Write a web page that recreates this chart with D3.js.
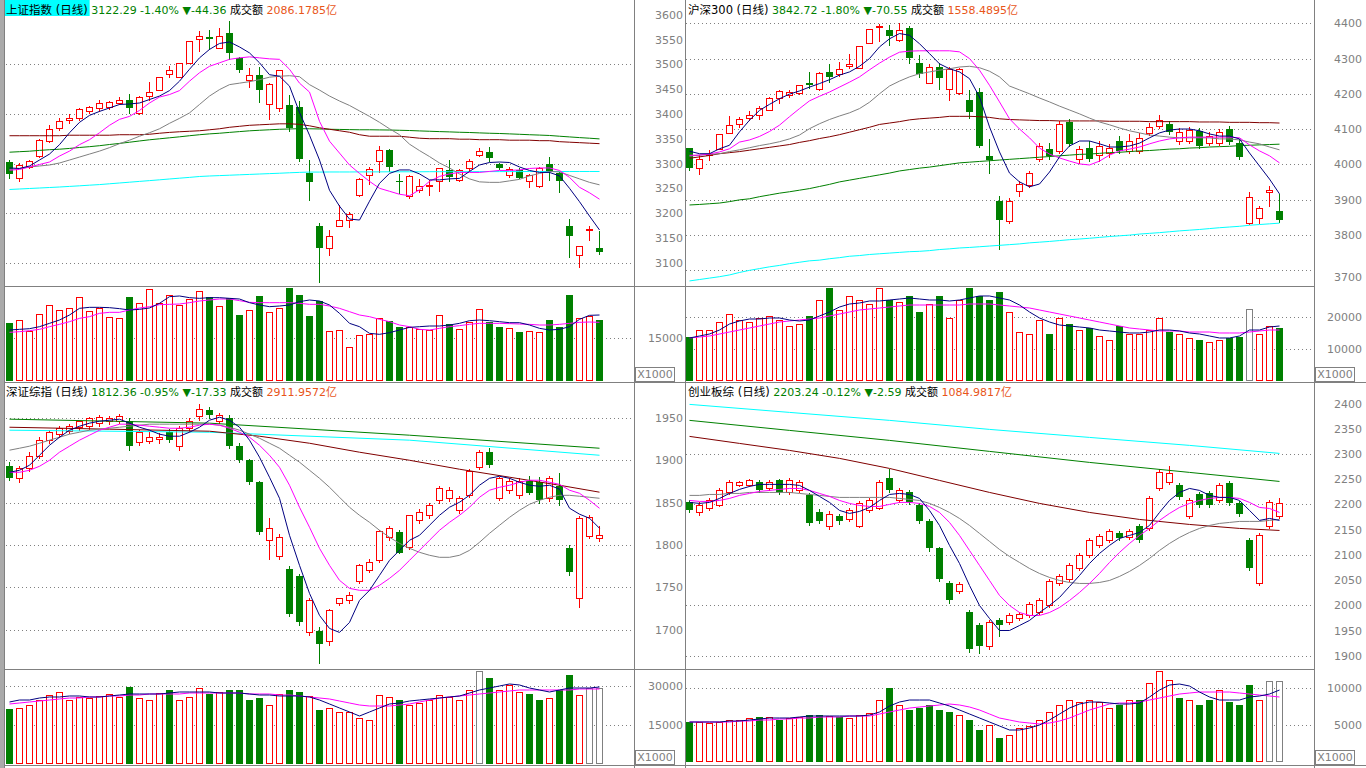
<!DOCTYPE html>
<html><head><meta charset="utf-8">
<script src="https://cdn.jsdelivr.net/npm/d3@7"></script>
<style>body{margin:0;background:#fff;overflow:hidden}svg{display:block}</style>
</head><body><svg id="c" width="1366" height="768"></svg>
<script>
// ---------------- DATA ----------------
const titles = ['上证指数','沪深300','深证综指','创业板综'];
const lastPrices = ['3122.29','3842.72','1812.36','2203.24'];
const pctChanges = ['-1.40%','-1.80%','-0.95%','-0.12%'];
const ptChanges = ['-44.36','-70.55','-17.33','-2.59'];
const turnovers = ['2086.1785','1558.4895','2911.9572','1084.9817'];

const shTicks = [3600,3550,3500,3450,3400,3350,3300,3250,3200,3150,3100];
const hsTicks = [4400,4300,4200,4100,4000,3900,3800,3700];
const szTicks = [1950,1900,1850,1800,1750,1700];
const cyTicks = [2400,2350,2300,2250,2200,2150,2100,2050,2000,1950,1900];
const shVolTicks = [15000], hsVolTicks = [20000,10000], szVolTicks = [30000,15000], cyVolTicks = [10000,5000];

// [open, high, low, close]
const shOHLC = [
[3303,3307,3271,3278],[3271,3301,3264,3296],[3293,3308,3291,3306],[3315,3350,3313,3348],[3346,3377,3344,3369],
[3371,3391,3368,3385],[3387,3399,3382,3391],[3391,3412,3387,3409],[3405,3415,3402,3414],[3412,3428,3405,3421],
[3414,3427,3410,3425],[3422,3434,3420,3429],[3429,3441,3401,3412],[3402,3437,3400,3435],[3437,3464,3429,3444],
[3449,3475,3448,3474],[3481,3496,3475,3488],[3475,3503,3474,3502],[3503,3547,3502,3546],[3552,3567,3526,3558],
[3555,3570,3530,3550],[3533,3573,3532,3558],[3563,3587,3510,3523],[3512,3515,3484,3488],[3469,3493,3454,3479],
[3478,3494,3424,3448],[3419,3463,3390,3461],[3411,3489,3405,3488],[3418,3439,3365,3372],[3414,3426,3305,3309],
[3281,3307,3226,3263],[3174,3180,3062,3130],[3129,3166,3115,3153],[3175,3217,3173,3186],[3186,3202,3172,3199],
[3236,3270,3235,3268],[3276,3293,3258,3288],[3306,3335,3283,3328],[3328,3330,3284,3293],[3265,3278,3240,3263],
[3235,3276,3231,3274],[3247,3268,3242,3254],[3254,3267,3237,3256],[3265,3291,3245,3290],[3287,3307,3265,3272],
[3267,3288,3264,3287],[3291,3309,3286,3306],[3317,3331,3315,3326],[3324,3334,3305,3311],[3299,3301,3288,3291],
[3277,3292,3272,3289],[3287,3290,3270,3270],[3264,3278,3252,3276],[3255,3292,3252,3290],[3299,3314,3267,3284],
[3280,3283,3242,3264],[3173,3188,3111,3153],[3116,3133,3092,3133],[3165,3173,3145,3168],[3130,3164,3117,3122.29]];
const shMA5 = [3291,3290,3295,3307,3319,3338,3362,3383,3397,3405,3412,3419,3420,3422,3429,3436,3447,3466,3490,3513,3530,3542,3545,3535,3523,3503,3479,3476,3456,3403,3357,3307,3246,3214,3188,3186,3224,3260,3280,3287,3287,3279,3267,3267,3269,3270,3284,3297,3302,3303,3302,3293,3286,3282,3282,3275,3250,3223,3194,3166];
const shMA10 = [3286.5,3288,3293,3298,3303,3315,3325,3338,3348,3362,3377,3389,3395,3407,3422,3434,3439,3447,3466,3483,3496,3503,3510,3513,3515,3513,3511,3510,3490,3462,3444,3385,3345,3321,3297,3280,3264,3250,3244,3238,3235,3247,3264,3274,3279,3282,3282,3282,3284,3286,3286,3287,3290,3291,3291,3286,3272,3252,3241,3228];
const shMA20 = [3288,3290,3293,3295,3297,3301,3307,3313,3319,3325,3332,3340,3347,3355,3362,3370,3381,3391,3402,3419,3436,3449,3459,3462,3465,3469,3474,3476,3477,3475,3459,3448,3436,3426,3417,3406,3395,3383,3370,3358,3339,3326,3314,3301,3291,3279,3269,3263,3262,3262,3265,3268,3275,3280,3284,3283,3276,3269,3262,3257];
const shMA60 = [3356,3356,3356,3356,3356,3356,3357,3357,3357,3357,3357,3358,3358,3358,3359,3361,3362.7,3364,3365,3366,3368,3370,3373,3375,3377,3378,3379,3380,3380,3379,3376,3372,3369,3366,3363,3358,3355,3355,3355,3355,3353,3351,3350,3350,3350,3349,3349,3348,3348,3348,3347,3347,3347,3346,3346,3344,3343,3342,3341,3340];
const shMA120 = [3322.8,3323.8,3324.8,3326.4,3327.8,3328.8,3330.4,3332.3,3333.9,3335.9,3338.3,3340.5,3342.9,3345.4,3347.8,3349.8,3351.8,3353.8,3356,3358,3359.7,3361,3362.7,3364.3,3365.9,3367,3368,3369,3369.6,3370.2,3370,3369.6,3369,3368.7,3368.3,3368,3368,3367.7,3367.5,3367,3366.5,3365.7,3365,3364.3,3363.7,3363,3362.5,3361.7,3361,3360.5,3359.7,3358.9,3358,3357.3,3356.5,3355,3353.6,3352.2,3351,3349.6];
const shMA250 = [3247.6,3248.6,3249.6,3250.6,3251.6,3252.6,3253.8,3255,3256.3,3257.5,3259.1,3260.7,3262.3,3263.9,3265.5,3267.1,3268.8,3270.4,3272,3273.8,3274.8,3275.6,3276.4,3277.2,3278,3278.8,3279.6,3280.4,3281.3,3282.1,3282.7,3282.7,3282.9,3282.9,3282.9,3283.1,3283.1,3283.1,3283.3,3283.3,3283.3,3283.3,3283.5,3283.5,3283.5,3283.5,3283.5,3283.7,3283.7,3283.7,3283.7,3283.7,3283.9,3283.9,3283.9,3283.9,3283.9,3283.9,3283.9,3283.9];
const shVol = [20210,21130,17440,23210,26330,24600,25170,28980,24250,25400,22170,21820,29210,27020,31870,26900,29790,26330,28290,31180,29210,25980,28640,22860,24600,29560,23900,25170,32220,29790,22630,27710,17440,17670,11660,15930,16160,21710,20780,18820,18820,18010,17670,22860,19740,17900,20320,24830,20550,18700,18240,16970,17320,16860,21130,18820,29790,21710,22520,21130];
const shVMA5 = [17665,17896,18127,18820,19975,21130,22862,25172,25519,25519,25404,25057,24595,24826,25288,26905,29215,29446,28868,28637,28868,28868,28637,28406,27136,26327,25750,25981,26327,27482,28060,27713,26327,23440,19975,18820,16510,16164,16741,17665,18589,18820,19051,19051,19398,19975,20899,21130,20899,20552,20206,20206,19398,18243,17665,17896,18820,21361,22747,22862];
const shVMA10 = [16857,17088,17434,17896,18820,19629,20552,21707,22285,23440,23787,23787,24595,25288,25750,26443,26559,26674,27136,27713,28060,28406,28406,27829,27252,27136,27136,27136,27136,26905,26559,26559,25981,25172,24017,22862,22285,21361,20552,19398,18820,17896,17665,18243,18820,19167,19629,19975,19975,19975,19860,19744,19629,19398,19398,19629,19975,20321,20437,20321];
const shGrayVol = [];

const hsOHLC = [
[4046,4046,3983,3990],[3990,4025,3971,4016],[4026,4041,4013,4030],[4044,4087,4042,4085],[4090,4137,4089,4111],
[4113,4133,4105,4128],[4132,4150,4125,4141],[4139,4165,4128,4160],[4155,4190,4153,4188],[4188,4210,4175,4207],
[4196,4211,4190,4204],[4203,4226,4200,4224],[4231,4262,4216,4226],[4214,4261,4212,4259],[4262,4284,4233,4248],
[4257,4290,4250,4270],[4279,4314,4272,4284],[4274,4337,4272,4335],[4345,4385,4343,4383],[4389,4397,4350,4392],
[4380,4394,4339,4364],[4352,4401,4350,4380],[4387,4392,4288,4302],[4287,4309,4248,4257],[4231,4285,4230,4276],
[4276,4287,4214,4246],[4213,4275,4183,4271],[4203,4273,4200,4271],[4182,4212,4132,4149],[4205,4215,4048,4051],
[4023,4071,3976,4013],[3896,3910,3760,3841],[3839,3905,3833,3896],[3924,3953,3910,3944],[3941,3981,3936,3975],
[4015,4060,4009,4052],[4043,4060,4015,4024],[4038,4123,4032,4114],[4120,4129,4052,4058],[4015,4052,4004,4043],
[4046,4066,4009,4015],[4026,4066,4009,4052],[4032,4058,4021,4046],[4066,4080,4032,4038],[4038,4086,4032,4066],
[4038,4089,4032,4075],[4089,4117,4083,4106],[4109,4140,4103,4126],[4114,4123,4086,4092],[4066,4103,4058,4092],
[4066,4106,4060,4097],[4095,4103,4046,4052],[4060,4092,4055,4080],[4060,4100,4055,4092],[4100,4109,4058,4063],
[4060,4072,4015,4021],[3833,3922,3831,3907],[3848,3881,3833,3876],[3921,3938,3882,3927],[3867,3916,3836,3842.72]];
const hsMA5 = [4037,4030,4030,4044,4054,4092,4125,4153,4170,4186,4199,4208,4219,4229,4240,4253,4262,4278,4300,4333,4356,4371,4366,4342,4314,4285,4271,4262,4243,4191,4106,4035,3975,3950,3936,3944,3978,4021,4052,4066,4066,4058,4049,4049,4052,4060,4075,4089,4097,4100,4100,4095,4086,4080,4080,4072,4032,3995,3958,3916];
const hsMA10 = [4025.5,4026,4029,4035,4044,4063,4069,4079,4093,4111,4135,4158,4180,4193,4205,4219,4233,4248,4268,4287,4304,4318,4321,4322,4322,4322,4322,4319,4300,4267,4224,4177,4129,4100,4075,4046,4029,4018,4009,4001,3998,4009,4026,4038,4043,4049,4058,4066,4072,4075,4077,4077,4077,4077,4077,4075,4055,4038,4024,4004];
const hsMA20 = [4023,4026,4028,4030,4036,4041,4047,4053,4058,4064,4072,4083,4101,4115,4127,4137,4146,4158,4176,4200,4222,4236,4248,4257,4262,4267,4271,4276,4278,4274,4264,4248,4222,4211,4200,4188,4177,4165,4154,4143,4131,4120,4112,4103,4095,4089,4083,4080,4077,4075,4075,4075,4075,4072,4072,4069,4063,4058,4049,4041];
const hsMA60 = [4017,4021,4025,4030,4033,4036,4040,4044,4048,4052,4056,4062,4067,4073,4078,4084,4091,4098,4105,4113,4117,4121,4126,4129,4131,4133,4136,4136,4136,4135,4133,4129,4127,4126,4125,4124,4124,4123,4123,4123,4123,4123,4122,4122,4122,4122,4121,4121,4121,4121,4121,4120,4120,4120,4119,4119,4119,4118,4118,4117];
const hsMA120 = [3884.5,3886,3888,3890,3894,3899,3902,3908,3913,3918,3922,3926.5,3931,3937,3943,3950,3955,3960,3965,3970,3975,3981,3985,3989,3992,3996,4000,4004,4006,4008,4010,4012,4014,4016,4018,4020,4022,4024,4026,4028,4029,4031,4033,4034,4036,4038,4039,4041,4043,4044,4046,4047,4049,4050,4051,4053,4054,4055,4056,4057];
const hsMA250 = [3669,3673,3677,3681,3686,3693,3699,3704,3709,3713,3718,3722,3726,3728,3732,3735,3739,3741,3744,3746,3748,3750,3752,3753,3755,3758,3760,3762.5,3764,3766,3768,3770,3772,3774,3777,3779,3781,3783.5,3786,3788,3790,3792.5,3795,3797,3799,3802,3804,3806,3808.5,3811,3813,3815,3817.5,3820,3822,3824,3827,3829,3831,3833];
const hsVol = [13715,15882,15882,18359,20836,18978,18359,19598,20217,18978,17121,17740,20217,25170,28886,22075,26409,25170,23932,28886,25170,24551,26409,21455,23932,26409,19598,25170,28886,26409,25170,27648,21455,15263,14644,18978,14644,19598,17740,15882,16502,14024,12786,17121,14644,14644,15882,19598,15263,14644,13405,12786,12167,12786,13405,13715,22384,14644,17121,16502];
const hsVMA5 = [13406,14025,14644,15882,17740,18669,19288,19288,19598,19598,18978,18669,18978,20217,21455,23003,23932,24242,24861,24861,25170,25480,25790,25480,25170,25170,24861,25170,25790,26409,26409,25790,25170,23622,21455,19598,18359,17430,17121,16811,16502,15882,15573,15263,14954,14954,15263,15882,15882,15573,14954,14644,14025,13406,13406,14025,15882,15882,16811,17121];
const hsVMA10 = [13406,13715,14025,14644,15263,15882,16502,17121,17740,18359,18669,18978,19288,19598,20217,20836,21455,22075,22384,22694,23003,23313,23622,23622,23622,23622,23622,23622,23932,23932,23932,23622,23313,23003,22694,22075,21455,20836,20217,19598,18978,18359,17740,17121,16502,16192,15882,15573,15573,15573,15263,15263,15263,14954,14954,14954,15263,15573,15882,15882];
const hsGrayVol = [56];

const szOHLC = [
[1893,1898,1877,1879],[1879,1893,1874,1891],[1891,1910,1888,1905],[1905,1927,1903,1924],[1924,1936,1921,1933],
[1931,1940,1928,1938],[1935,1943,1932,1941],[1939,1947,1936,1946],[1940,1951,1937,1950],[1944,1953,1941,1951],
[1946,1952,1943,1950],[1946,1955,1944,1952],[1947,1950,1912,1917],[1922,1936,1918,1933],[1923,1934,1920,1928],
[1925,1932,1921,1928],[1933,1937,1922,1924],[1917,1940,1912,1938],[1938,1950,1935,1947],[1952,1966,1948,1961],
[1959,1963,1950,1954],[1947,1956,1944,1954],[1950,1953,1915,1917],[1917,1920,1898,1900],[1900,1902,1872,1874],
[1874,1876,1813,1815],[1806,1832,1784,1820],[1787,1813,1784,1810],[1772,1775,1716,1718],[1763,1766,1705,1709],
[1697,1738,1694,1735],[1698,1703,1661,1683],[1687,1725,1682,1723],[1731,1738,1729,1737],[1735,1744,1732,1741],
[1757,1778,1755,1776],[1771,1784,1768,1780],[1782,1818,1780,1817],[1810,1822,1806,1820],[1815,1818,1790,1791],
[1798,1836,1795,1835],[1829,1842,1826,1839],[1835,1850,1832,1847],[1853,1870,1850,1867],[1855,1868,1852,1865],
[1841,1858,1838,1856],[1859,1890,1857,1888],[1892,1912,1890,1910],[1910,1914,1892,1895],[1856,1880,1853,1879],
[1865,1879,1862,1876],[1859,1879,1856,1876],[1876,1882,1860,1862],[1874,1880,1850,1853],[1855,1881,1852,1879],
[1870,1885,1847,1853],[1796,1800,1765,1768],[1737,1834,1727,1832],[1811,1836,1808,1833],[1808,1822,1805,1812.36]];
const szMA5 = [1885.9,1888.3,1894.2,1906,1917.8,1927.3,1935.6,1940.3,1943.9,1946.2,1947.4,1948.6,1943.9,1939.1,1935.6,1930.9,1928.5,1928.5,1933.2,1939.1,1947.4,1950.9,1947.4,1939.1,1923.8,1903.7,1880,1855.2,1811.5,1776,1742.9,1716.9,1701.5,1696.8,1708.6,1734.6,1746.5,1764.2,1781.9,1793.7,1805.6,1811.5,1823.3,1835.1,1844.6,1850.5,1858.8,1870.6,1878.8,1881.2,1878.8,1874.1,1870.6,1869.4,1870.6,1866,1843.5,1836.4,1831.6,1819.8];
const szMA10 = [1885.9,1885.9,1888.3,1893,1900.1,1909.6,1916.7,1923.8,1929.7,1935.6,1939.1,1942.7,1942.7,1941.5,1940.3,1939.1,1937.9,1937.9,1939.1,1941.5,1942.7,1941.5,1937.9,1933.2,1927.3,1917.8,1906,1891.8,1870.6,1844.6,1821,1796.1,1776,1758.3,1748.8,1746.5,1746.5,1752.4,1760.6,1770.1,1781.9,1793.7,1805.6,1817.4,1826.8,1835.1,1844.6,1856.4,1864.7,1868.2,1870.6,1874.1,1876.5,1876.5,1874.1,1871.7,1864.7,1861.1,1852.8,1843.4];
const szMA20 = [1912,1914.3,1916.7,1920.2,1923.8,1927.3,1930.9,1933.2,1935.6,1936.8,1937.9,1939.1,1940.3,1941.5,1942.7,1942.7,1942.7,1942.7,1942.7,1942.7,1942.7,1941.5,1939.1,1935.6,1930.9,1926.1,1920.2,1914.3,1906,1897.8,1888.3,1878.8,1868.2,1856.4,1844.6,1835.1,1826.8,1817.4,1809.1,1802,1796.1,1791.4,1787.9,1785.5,1785.5,1787.9,1793.7,1803.2,1813.8,1823.3,1832.7,1841,1848.1,1852.8,1856.4,1858.7,1858.7,1857.6,1856.4,1855.2];
const szMA60 = [[0,1939.1],[10,1936.8],[20,1934.4],[25,1928.5],[30,1920.2],[35,1909.6],[40,1900.1],[45,1889.5],[50,1880.1],[55,1870.6],[59,1862.4]];
const szMA120 = [[0,1948.6],[20,1943.9],[40,1929.7],[59,1914.3]];
const szMA250 = [[0,1935.6],[20,1933.2],[40,1923.8],[59,1906]];
const szVol = [21202,21590,22752,24690,26628,27791,24690,25853,25465,26241,27016,25853,29729,25465,24690,27403,28566,24690,25853,29341,27016,27791,28566,28566,24690,25465,22752,27016,28566,27791,26241,20814,21590,20039,20039,17713,16938,26628,25853,24690,22752,23527,24690,26628,25853,24690,28566,35931,33218,28566,30505,27791,27016,24690,25465,28566,34380,26628,29341,29341];
const szVMA5 = [23915,24690,24690,25465,25853,25853,26241,26241,25853,25853,26241,26628,27016,27016,27016,27016,27403,27791,27791,27791,27791,27403,27403,27403,27016,26628,26628,26241,26241,26241,25853,24690,23140,21590,20039,18488,20039,21590,23140,23527,24302,24690,25078,25465,25853,26241,27403,28566,29341,30117,30892,30505,29341,28566,27791,28566,29341,29341,29341,29729];
const szVMA10 = [23140,23527,23915,24302,24690,25078,25465,25465,25853,25853,26241,26241,26628,26628,27016,27016,27016,27016,27403,27403,27403,27403,27403,27403,27016,27016,27016,26628,26628,26241,25853,25465,25078,24302,23527,22752,22364,22364,22364,22752,23140,23915,24690,25465,25853,26241,26628,27016,27403,27791,28179,28566,28566,28566,28566,28566,28566,28954,28954,28954];
const szGrayVol = [47,58,59];

const cyOHLC = [
[2204,2208,2184,2188],[2184,2204,2180,2198],[2192,2212,2188,2208],[2198,2232,2196,2228],[2224,2248,2220,2244],
[2238,2246,2236,2244],[2238,2250,2236,2248],[2244,2248,2224,2228],[2232,2248,2228,2244],[2248,2250,2220,2224],
[2224,2252,2220,2248],[2228,2248,2224,2244],[2218,2222,2160,2164],[2184,2190,2164,2168],[2158,2186,2152,2182],
[2178,2182,2162,2168],[2172,2192,2168,2188],[2158,2206,2156,2202],[2188,2212,2184,2208],[2192,2248,2190,2244],
[2252,2270,2224,2228],[2208,2232,2204,2228],[2224,2228,2200,2204],[2198,2202,2164,2168],[2168,2172,2108,2113],
[2113,2116,2048,2053],[2045,2048,2004,2010],[2029,2047,2025,2043],[1986,1990,1908,1914],[1960,1964,1905,1920],
[1920,1970,1914,1966],[1970,1975,1940,1960],[1966,1984,1962,1980],[1974,1986,1970,1982],[1980,2006,1976,2002],
[1986,2014,1982,2010],[2000,2053,1996,2049],[2045,2063,2041,2059],[2053,2083,2049,2079],[2073,2103,2069,2099],
[2099,2133,2095,2129],[2119,2142,2115,2138],[2129,2152,2125,2148],[2144,2148,2129,2133],[2135,2152,2131,2148],
[2158,2162,2125,2129],[2154,2216,2150,2212],[2232,2270,2228,2264],[2244,2276,2240,2262],[2238,2242,2210,2214],
[2178,2212,2174,2208],[2220,2224,2194,2198],[2222,2226,2194,2198],[2208,2242,2204,2238],[2242,2246,2198,2202],
[2202,2206,2178,2182],[2129,2133,2069,2073],[2045,2143,2041,2139],[2158,2208,2154,2204],[2178,2212,2174,2203.24]];
const cyMA5 = [2204,2202,2204,2211.9,2221.8,2229.8,2235.7,2239.7,2239.7,2239.7,2239.7,2237.7,2227.8,2215.9,2204,2188.1,2182.1,2186.1,2194,2207.9,2219.8,2221.8,2219.8,2211.9,2188.1,2158.3,2118.7,2082.9,2039.3,1999.6,1973.8,1950,1950,1959.9,1969.9,1985.7,1999.6,2015.5,2037.3,2059.1,2082.9,2102.8,2118.7,2132.5,2138.5,2144.4,2158.3,2184.1,2207.9,2223.8,2231.7,2227.8,2217.9,2213.9,2213.9,2207.9,2188.1,2168.3,2172.2,2168.3];
const cyMA10 = [2207.9,2206,2206,2207.9,2211.9,2217.9,2221.8,2225.8,2227.8,2229.8,2231.7,2231.7,2227.8,2221.8,2215.9,2207.9,2202,2198,2196,2196,2200,2204,2204,2202,2196,2184.1,2164.3,2138.5,2108.7,2079,2049.2,2019.5,1999.6,1985.7,1979.8,1979.8,1985.7,1995.6,2009.5,2025.4,2043.3,2063.1,2084.9,2104.8,2122.6,2138.5,2152.4,2168.3,2182.1,2194,2202,2207.9,2211.9,2213.9,2213.9,2211.9,2204,2194,2192,2184.1];
const cyMA20 = [2217.9,2217.9,2219.8,2219.8,2221.8,2221.8,2223.8,2223.8,2223.8,2223.8,2223.8,2221.8,2219.8,2217.9,2215.9,2213.9,2213.9,2213.9,2213.9,2213.9,2213.9,2211.9,2209.9,2207.9,2202,2194,2184.1,2172.2,2158.3,2142.5,2126.6,2110.7,2096.8,2084.9,2073,2063.1,2055.2,2049.2,2045.2,2043.3,2043.3,2045.2,2049.2,2057.2,2067.1,2079,2092.9,2108.7,2122.6,2134.5,2144.4,2152.4,2158.3,2162.3,2164.3,2166.3,2166.3,2166.3,2168.3,2170.2];
const cyMA60 = [[0,2334.9],[5,2321],[10,2307.1],[15,2291.3],[20,2271.4],[25,2247.6],[30,2223.8],[35,2202],[40,2184.1],[45,2170.2],[50,2160.3],[55,2152.4],[59,2148.4]];
const cyMA120 = [[0,2366.7],[10,2346.8],[20,2327],[30,2305.2],[40,2283.3],[50,2263.5],[59,2245.6]];
const cyMA250 = [[0,2398.4],[10,2382.5],[20,2366.7],[30,2348.8],[40,2332.9],[50,2317.1],[59,2301.2]];
const cyVol = [5404,5404,5269,5404,5674,5674,5944,6080,6080,5674,5944,6080,6350,6350,6215,6080,5944,6350,6620,8376,9997,7701,7025,7295,7701,7025,6755,6350,5674,4323,4999,3242,3648,4593,4864,5674,6755,7701,8376,8106,8376,8106,7295,7701,8376,8376,10673,12294,11078,8646,8376,7701,8376,9727,8106,7701,10403,8376,10943,10943];
const cyVMA5 = [5404,5404,5404,5404,5539,5539,5674,5809,5944,5944,5944,6080,6215,6215,6215,6215,6215,6215,6350,6755,7566,8106,8376,8376,8376,7971,7566,7025,6485,5944,5404,4864,4323,4323,4593,4999,5674,6485,7295,7836,8106,8106,7971,7836,7836,7971,8782,9727,10403,10538,10268,9457,8782,8376,8376,8376,8782,8917,9187,9727];
const cyVMA10 = [5404,5404,5404,5404,5404,5539,5539,5674,5674,5809,5809,5944,5944,6080,6080,6080,6215,6215,6215,6485,6755,7025,7295,7431,7566,7701,7836,7701,7431,7025,6485,5944,5674,5404,5269,5134,5269,5539,5944,6485,7025,7431,7836,7971,7971,8106,8376,8646,8917,9187,9322,9457,9457,9457,9457,9322,9187,9052,8917,8782];
const cyGrayVol = [58,59];

// ---------------- LAYOUT ----------------
const RED='#ff0000', GREEN='#008000', GRAY='#808080';
const maColors = ['#000080','#ff00ff','#808080','#800000','#008000','#00ffff'];
const FONT = '"DejaVu Sans","Noto Sans CJK SC",sans-serif';

const panels = [
 {k:0, ohlc:shOHLC, vol:shVol, gray:shGrayVol, ma:[shMA5,shMA10,shMA20,shMA60,shMA120,shMA250], vma:[shVMA5,shVMA10],
  x0:5, x1:634, top:16, bot:286, vBot:382, yDom:[3100,3500], yRange:[262.7,64.3], ticks:shTicks, grid:[3500,3400,3300,3200,3100],
  vDom:[0,15000], vRange:[381,337.7], vTicks:shVolTicks, labelX:683, boxX:635, hx:6, hy:14, active:true, nudge:{}},
 {k:1, ohlc:hsOHLC, vol:hsVol, gray:hsGrayVol, ma:[hsMA5,hsMA10,hsMA20,hsMA60,hsMA120,hsMA250], vma:[hsVMA5,hsVMA10],
  x0:685, x1:1314, top:16, bot:286, vBot:382, yDom:[3700,4400], yRange:[270,23.3], ticks:hsTicks, grid:hsTicks,
  vDom:[0,10000], vRange:[381.3,349], vTicks:hsVolTicks, labelX:1362, boxX:1315, hx:688, hy:14, nudge:{3700:7.7}},
 {k:2, ohlc:szOHLC, vol:szVol, gray:szGrayVol, ma:[szMA5,szMA10,szMA20,szMA60,szMA120,szMA250], vma:[szVMA5,szVMA10],
  x0:5, x1:634, top:400, bot:669, vBot:765, yDom:[1700,1950], yRange:[629.7,418], ticks:szTicks, grid:szTicks,
  vDom:[0,15000], vRange:[763.7,725], vTicks:szVolTicks, labelX:683, boxX:635, hx:6, hy:396, nudge:{}},
 {k:3, ohlc:cyOHLC, vol:cyVol, gray:cyGrayVol, ma:[cyMA5,cyMA10,cyMA20,cyMA60,cyMA120,cyMA250], vma:[cyVMA5,cyVMA10],
  x0:685, x1:1314, top:400, bot:669, vBot:765, yDom:[1900,2300], yRange:[655.7,454], ticks:cyTicks, grid:[2300,2200,2100,2000,1900],
  vDom:[0,5000], vRange:[762,725], vTicks:cyVolTicks, labelX:1362, boxX:1315, hx:688, hy:396, nudge:{}}
];

const svg = d3.select('#c');
svg.append('rect').attr('width',1366).attr('height',768).attr('fill','#fff');
const defs = svg.append('defs');

function styleAxisText(g){
  g.attr('font-family', FONT).attr('font-size', 11);
  g.select('.domain').remove();
  g.selectAll('text').attr('fill', GRAY);
}

function drawPanel(p){
  const x = d3.scaleLinear().domain([0,59]).range([p.x0+4.5, p.x0+594.5]);
  const y = d3.scaleLinear().domain(p.yDom).range(p.yRange);
  const yv = d3.scaleLinear().domain(p.vDom).range(p.vRange);
  const yR = y.copy().interpolate(d3.interpolateRound);
  const yvR = yv.copy().interpolate(d3.interpolateRound);

  [[yR,p.grid],[yvR,p.vTicks]].forEach(([sc,vals])=>{
    const gg = svg.append('g').attr('transform',`translate(${p.x0+1},0)`)
      .call(d3.axisRight(sc).tickValues(vals).tickSize(p.x1-p.x0-1).tickFormat(''));
    gg.select('.domain').remove();
    gg.selectAll('line').attr('stroke',GRAY).attr('stroke-dasharray','1,3');
  });

  const ag = svg.append('g').attr('transform',`translate(${p.labelX},0)`)
     .call(d3.axisLeft(y).tickValues(p.ticks).tickSize(0).tickPadding(0).tickFormat(d3.format('d')));
  styleAxisText(ag);
  ag.selectAll('.tick').filter(d=>p.nudge[d]).attr('transform',d=>`translate(0,${y(d)+p.nudge[d]})`);
  const vg = svg.append('g').attr('transform',`translate(${p.labelX},0)`)
     .call(d3.axisLeft(yv).tickValues(p.vTicks).tickSize(0).tickPadding(0).tickFormat(d3.format('d')));
  styleAxisText(vg);

  svg.append('rect').attr('x',p.boxX+0.5).attr('y',p.vBot-15+0.5).attr('width',39).attr('height',14)
     .attr('fill','none').attr('stroke',GRAY);
  svg.append('text').attr('x',p.boxX+20).attr('y',p.vBot-4).attr('text-anchor','middle')
     .attr('font-family',FONT).attr('font-size',11).attr('fill',GRAY).text('X1000');

  const cg = svg.append('g').attr('shape-rendering','crispEdges');
  p.ohlc.forEach((d,i)=>{
    const [o,h,l,c] = d; const cx = x(i);
    const t = Math.round(y(Math.max(o,c))), b = Math.round(y(Math.min(o,c)));
    const yh = Math.round(y(h)), yl = Math.round(y(l));
    if (c >= o){
      if (b - t < 1){
        cg.append('line').attr('x1',cx-3.5).attr('x2',cx+3.5).attr('y1',t+0.5).attr('y2',t+0.5).attr('stroke',RED);
        cg.append('line').attr('x1',cx).attr('x2',cx).attr('y1',yh).attr('y2',yl+1).attr('stroke',RED);
      } else {
        if (yh < t) cg.append('line').attr('x1',cx).attr('x2',cx).attr('y1',yh).attr('y2',t).attr('stroke',RED);
        if (yl > b) cg.append('line').attr('x1',cx).attr('x2',cx).attr('y1',b+1).attr('y2',yl+1).attr('stroke',RED);
        cg.append('rect').attr('x',cx-3).attr('y',t+0.5).attr('width',6).attr('height',b-t)
          .attr('fill','#fff').attr('stroke',RED);
      }
    } else {
      cg.append('line').attr('x1',cx).attr('x2',cx).attr('y1',yh).attr('y2',yl+1).attr('stroke',GREEN);
      cg.append('rect').attr('x',cx-3.5).attr('y',t).attr('width',7).attr('height',Math.max(b-t,1)).attr('fill',GREEN);
    }
  });

  const base = Math.round(yv(0));
  p.vol.forEach((v,i)=>{
    const [o,,,c] = p.ohlc[i]; const cx = x(i); const t = Math.round(yv(v));
    const gray = p.gray.includes(i);
    if (c >= o || gray) cg.append('rect').attr('x',cx-3).attr('y',t+0.5).attr('width',6).attr('height',base-1-t)
        .attr('fill','#fff').attr('stroke',gray ? GRAY : RED);
    else cg.append('rect').attr('x',cx-3.5).attr('y',t).attr('width',7).attr('height',base-t).attr('fill',GREEN);
  });

  const cid = 'clip'+p.k;
  defs.append('clipPath').attr('id',cid).append('rect').attr('x',p.x0).attr('y',p.top).attr('width',p.x1-p.x0).attr('height',p.bot-p.top);
  const lg = svg.append('g').attr('clip-path',`url(#${cid})`);
  const norm = a => a.map((v,i)=>Array.isArray(v)?v:[i,v]);
  const line = d3.line().x(d=>x(d[0])).y(d=>y(d[1]));
  [5,4,3,2,1,0].forEach(m=>{
    lg.append('path').attr('d',line(norm(p.ma[m]))).attr('fill','none').attr('stroke',maColors[m]).attr('stroke-width',1);
  });
  const vline = d3.line().x((d,i)=>x(i)).y(d=>yv(d));
  [1,0].forEach(m=>{
    svg.append('path').attr('d',vline(p.vma[m])).attr('fill','none').attr('stroke',maColors[m]).attr('stroke-width',1);
  });

  const hg = svg.append('g');
  const bg = hg.append('rect').attr('fill','#00ffff');
  const tx = hg.append('text').attr('x',p.hx).attr('y',p.hy).attr('font-family',FONT).attr('font-size',11)
     .style('white-space','pre');
  const t1 = tx.append('tspan').attr('fill','#000').attr('font-size',11.5).text(titles[p.k]+' (日线)');
  tx.append('tspan').attr('fill',GREEN).text(' '+lastPrices[p.k]+' '+pctChanges[p.k]);
  tx.append('tspan').attr('fill',GREEN).text(' ▼'+ptChanges[p.k]);
  tx.append('tspan').attr('fill','#000').text(' 成交额');
  tx.append('tspan').attr('fill','#e8561a').text(' '+turnovers[p.k]+'亿');
  if (p.active){
    const w = t1.node().getComputedTextLength();
    bg.attr('x',p.hx-4).attr('y',p.hy-14).attr('width',w+6).attr('height',16);
  } else bg.remove();
}

panels.forEach(drawPanel);

const fr = svg.append('g').attr('stroke',GRAY).attr('shape-rendering','crispEdges');
svg.append('rect').attr('x',0).attr('y',0).attr('width',4).attr('height',768).attr('fill','#aaaaaa');
[[4.5,0,4.5,768],[634.5,0,634.5,768],[685.5,0,685.5,768],[1314.5,0,1314.5,768],
 [5,286.5,1314,286.5],[0,382.5,1366,382.5],[5,669.5,1314,669.5],[0,765.5,1366,765.5]].forEach(a=>{
  fr.append('line').attr('x1',a[0]).attr('y1',a[1]).attr('x2',a[2]).attr('y2',a[3]);
});
</script></body></html>
